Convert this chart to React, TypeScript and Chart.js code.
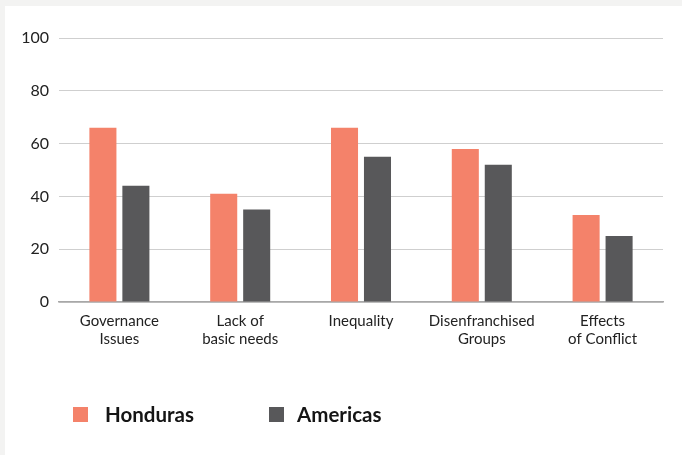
import React, { useEffect, useRef } from "react";
import { Chart, registerables } from "chart.js";

Chart.register(...registerables);

const categories: string[][] = [
  ["Governance", "Issues"],
  ["Lack of", "basic needs"],
  ["Inequality"],
  ["Disenfranchised", "Groups"],
  ["Effects", "of Conflict"],
];
const seriesNames = ["Honduras", "Americas"];
const hondurasValues = [66, 41, 66, 58, 33];
const americasValues = [44, 35, 55, 52, 25];
const seriesColors = ["#f4826a", "#58585a"];
const yTicks = [0, 20, 40, 60, 80, 100];

const FONT = "Lato, 'Noto Sans', sans-serif";

export default function App() {
  const ref = useRef<HTMLCanvasElement | null>(null);

  useEffect(() => {
    if (!ref.current) return;
    const chart = new Chart(ref.current, {
      type: "bar",
      data: {
        labels: categories,
        datasets: [
          {
            label: seriesNames[0],
            data: hondurasValues,
            backgroundColor: seriesColors[0],
            categoryPercentage: 0.546,
            barPercentage: 0.82,
          },
          {
            label: seriesNames[1],
            data: americasValues,
            backgroundColor: seriesColors[1],
            categoryPercentage: 0.546,
            barPercentage: 0.82,
          },
        ],
      },
      options: {
        responsive: false,
        animation: false,
        layout: { padding: { top: 38, right: 19, bottom: 0, left: 0 } },
        plugins: {
          legend: { display: false },
          tooltip: { enabled: false },
        },
        scales: {
          x: {
            grid: { display: false },
            border: { display: true, color: "#a8a8a8", width: 1.5 },
            ticks: {
              color: "#222",
              font: { family: FONT, size: 15 },
              padding: 2,
              maxRotation: 0,
              autoSkip: false,
            },
            afterFit: (scale: any) => {
              scale.height = 153;
            },
          },
          y: {
            min: 0,
            max: 100,
            afterBuildTicks: (scale: any) => {
              scale.ticks = yTicks.map((v) => ({ value: v }));
            },
            grid: { color: "#cfcfcf", lineWidth: 1, drawTicks: false },
            border: { display: false },
            ticks: {
              color: "#222",
              font: { family: FONT, size: 16 },
              padding: 10,
            },
            afterFit: (scale: any) => {
              scale.width = 59;
            },
          },
        },
      },
    });
    return () => chart.destroy();
  }, []);

  const legendPos = [
    { box: 73, text: 105 },
    { box: 269, text: 297 },
  ];

  return (
    <div
      style={{
        position: "fixed",
        left: 0,
        top: 0,
        width: 682,
        height: 455,
        background: "#f3f3f2",
        overflow: "hidden",
      }}
    >
      <div
        style={{
          position: "absolute",
          left: 5,
          top: 6,
          right: 0,
          bottom: 0,
          background: "#ffffff",
        }}
      />
      <canvas
        ref={ref}
        width={682}
        height={455}
        style={{ position: "absolute", left: 0, top: 0, width: 682, height: 455 }}
      />
      {seriesNames.map((name, i) => (
        <React.Fragment key={name}>
          <div
            style={{
              position: "absolute",
              left: legendPos[i].box,
              top: 407,
              width: 15,
              height: 15,
              background: seriesColors[i],
            }}
          />
          <div
            style={{
              position: "absolute",
              left: legendPos[i].text,
              top: 402,
              height: 24,
              lineHeight: "24px",
              fontFamily: FONT,
              fontWeight: 700,
              fontSize: 20.5,
              color: "#151515",
            }}
          >
            {name}
          </div>
        </React.Fragment>
      ))}
    </div>
  );
}
